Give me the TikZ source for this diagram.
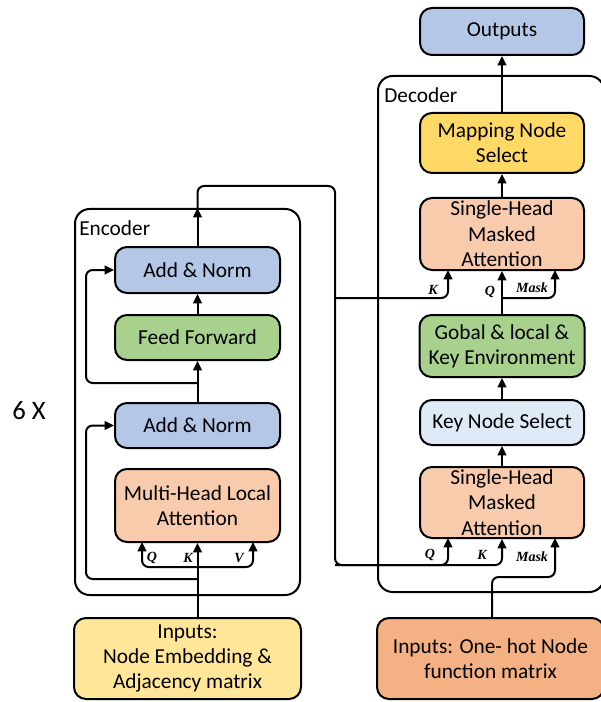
\documentclass[tikz,border=0pt]{standalone}
\usepackage{fontspec}
\setmainfont{Carlito}
\newfontfamily\labfamily{Liberation Serif}
\usetikzlibrary{arrows.meta,calc}
\newdimen\upx \upx=0.75pt
\definecolor{cBlue}{HTML}{B4C7E7}
\definecolor{cGreen}{HTML}{A9D18E}
\definecolor{cSalmon}{HTML}{F8CBAD}
\definecolor{cGold}{HTML}{FFD966}
\definecolor{cCream}{HTML}{FFE699}
\definecolor{cOrange}{HTML}{F4B183}
\definecolor{cIce}{HTML}{DEEBF7}
\begin{document}
\begin{tikzpicture}[x=0.75pt,y=-0.75pt,
  box/.style={draw, line width=1.5pt, rounded corners=9pt, align=center, inner sep=0pt,
              font=\fontsize{16pt}{19pt}\selectfont},
  frame/.style={draw, line width=1.5pt, rounded corners=11pt, inner sep=0pt},
  title/.style={inner sep=0pt, anchor=west, font=\fontsize{16pt}{19pt}\selectfont},
  link/.style={line width=1.5pt, rounded corners=5pt},
  arr/.style={link, -{Triangle[length=7pt,width=6.5pt]}},
  lab/.style={inner sep=0pt, font=\labfamily\fontsize{10.5pt}{11pt}\selectfont\bfseries\itshape}]

\fill[white] (0,0) rectangle (600,702);
\useasboundingbox (0,0) rectangle (600,702);

% enclosing frames
\node[frame, minimum width=225\upx, minimum height=386\upx] (enc) at (187.5,402) {};
\node[frame, minimum width=226\upx, minimum height=516\upx] (dec) at (491,334) {};
\node[title] (encl) at (79,228) {Encoder};
\node[title] (decl) at (384,95) {Decoder};
\node[inner sep=0pt, font=\fontsize{20pt}{22pt}\selectfont] (rep) at (29,411) {6 X};

% encoder blocks
\node[box, fill=cBlue,   minimum width=165\upx, minimum height=46\upx] (an2) at (197.5,270) {Add \& Norm};
\node[box, fill=cGreen,  minimum width=165\upx, minimum height=45\upx] (ff)  at (197.5,337.5) {Feed Forward};
\node[box, fill=cBlue,   minimum width=165\upx, minimum height=45\upx] (an1) at (197.5,425.5) {Add \& Norm};
\node[box, fill=cSalmon, minimum width=165\upx, minimum height=73\upx] (mha) at (197.5,505.5) {Multi-Head Local\\Attention};
\node[box, fill=cCream,  minimum width=227\upx, minimum height=81\upx] (inL) at (187.5,658.5) {Inputs:\\Node Embedding \&\\Adjacency matrix};

% decoder blocks
\node[box, fill=cBlue,   minimum width=164\upx, minimum height=47\upx] (out)  at (502,31.5) {Outputs};
\node[box, fill=cGold,   minimum width=164\upx, minimum height=60\upx] (map)  at (502,143) {Mapping Node\\Select};
\node[box, fill=cSalmon, minimum width=164\upx, minimum height=72\upx] (sha2) at (502,234) {Single-Head\\Masked\\Attention};
\node[box, fill=cGreen,  minimum width=165\upx, minimum height=62\upx] (gob)  at (502,346) {Gobal \& local \&\\Key Environment};
\node[box, fill=cIce,    minimum width=164\upx, minimum height=45\upx] (kns)  at (502,422.5) {Key Node Select};
\node[box, fill=cSalmon, minimum width=164\upx, minimum height=71\upx] (sha1) at (502,502.5) {Single-Head\\Masked\\Attention};
\node[box, fill=cOrange, minimum width=227\upx, minimum height=81\upx] (inR)  at (490.5,658.5) {Inputs: One- hot Node\\function matrix};

% tap points and input ports
\coordinate (qkv)    at (197.5,567);
\coordinate (mhaQ)   at (142,542);
\coordinate (mhaV)   at (253,542);
\coordinate (res1)   at (197.5,579);
\coordinate (res2)   at (197.5,383);
\coordinate (busTop) at (335,186);
\coordinate (busMid) at (335,298);
\coordinate (busBot) at (335,565);
\coordinate (sha1Q)  at (448,538);
\coordinate (sha1M)  at (555,538);
\coordinate (sha2K)  at (448,270);
\coordinate (sha2M)  at (555,270);
\coordinate (mBend)  at (492,577);
\coordinate (gobTap) at (502,298);

% encoder connectors
\draw[arr] (inL.north -| mha.south) -- (mha.south);
\draw[arr] (qkv) -| (mhaQ);
\draw[arr] (qkv) -| (mhaV);
\draw[arr] (res1) -| ($(an1.west)+(-28,0)$) -- (an1.west);
\draw[arr] (an1.north) -- (ff.south);
\draw[arr] (res2) -| ($(an2.west)+(-28,0)$) -- (an2.west);
\draw[arr] (ff.north) -- (an2.south);
\draw[arr] (an2.north) -- (an2.north |- enc.north);

% encoder output to the decoder
\draw[arr] (an2.north |- enc.north) |- (busTop) -- (busBot) -| (sha1.south);
\draw[arr] (busBot) -| (sha1Q);
\draw[arr] (busMid) -| (sha2K);

% decoder connectors
\draw[arr] (inR.north -| mBend) -- (mBend) -| (sha1M);
\draw[arr] (sha1.north) -- (kns.south);
\draw[arr] (kns.north) -- (gob.south);
\draw[arr] (gob.north) -- (sha2.south);
\draw[arr] (gobTap) -| (sha2M);
\draw[arr] (sha2.north) -- (map.south);
\draw[arr] (map.north) -- (out.south);

% port labels
\node[lab] (lq1) at (152,558) {Q};
\node[lab] (lk1) at (188,558) {K};
\node[lab] (lv1) at (239,558) {V};
\node[lab] (lk2) at (433,290) {K};
\node[lab] (lq2) at (490,292) {Q};
\node[lab] (lm2) at (532,288) {Mask};
\node[lab] (lq3) at (430,555) {Q};
\node[lab] (lk3) at (482,555) {K};
\node[lab] (lm3) at (532,557) {Mask};
\end{tikzpicture}
\end{document}
